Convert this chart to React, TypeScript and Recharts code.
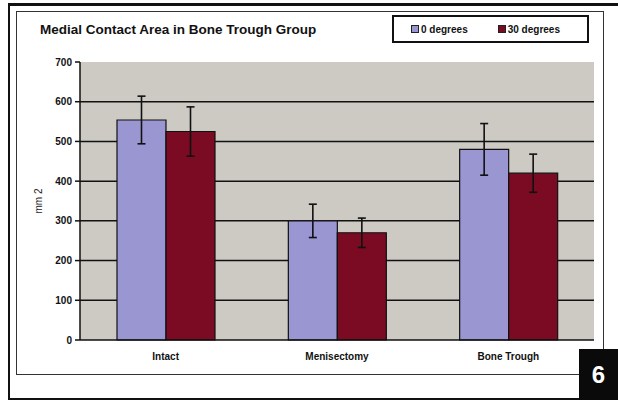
import React from 'react';
import { BarChart, Bar, XAxis, YAxis, CartesianGrid, ErrorBar } from 'recharts';

const CATEGORIES = ['Intact', 'Menisectomy', 'Bone Trough'];
const DEG0 = [554, 300, 480];
const DEG0_ERR = [60, 42, 65];
const DEG30 = [525, 270, 420];
const DEG30_ERR = [62, 37, 48];
const Y_TICKS = [0, 100, 200, 300, 400, 500, 600, 700];
const GRID_VALUES = [100, 200, 300, 400, 500, 600];

const COLOR_0 = '#9a96d2';
const COLOR_30 = '#7a0b22';
const FONT = '"Liberation Sans", Arial, sans-serif';

const data = CATEGORIES.map((name, i) => ({
  name,
  deg0: DEG0[i],
  err0: DEG0_ERR[i],
  deg30: DEG30[i],
  err30: DEG30_ERR[i],
}));

const LegendBox = () => (
  <div
    style={{
      position: 'absolute',
      left: 392,
      top: 15,
      width: 193,
      height: 24,
      border: '2px solid #111',
      display: 'flex',
      alignItems: 'center',
      fontFamily: FONT,
      fontSize: 10,
      fontWeight: 'bold',
      color: '#111',
    }}
  >
    <span style={{ display: 'inline-block', width: 6, height: 6, background: COLOR_0, border: '1px solid #222', marginLeft: 17, marginRight: 2 }} />
    <span>0 degrees</span>
    <span style={{ display: 'inline-block', width: 6, height: 6, background: COLOR_30, border: '1px solid #222', marginLeft: 30, marginRight: 2 }} />
    <span>30 degrees</span>
  </div>
);

export default function App() {
  return (
    <div style={{ position: 'absolute', left: 0, top: 0, width: 618, height: 400, background: '#fff', overflow: 'hidden' }}>
      {/* page frame */}
      <div style={{ position: 'absolute', left: 8, top: 3, width: 640, height: 392, borderLeft: '2px solid #111', borderTop: '3px solid #111', borderBottom: '2px solid #111' }} />
      {/* chart frame */}
      <div style={{ position: 'absolute', left: 16, top: 11, width: 586, height: 362, border: '1.5px solid #333' }} />

      <div style={{ position: 'absolute', left: 0, top: 0 }}>
        <BarChart
          width={618}
          height={400}
          data={data}
          margin={{ top: 62, right: 24, bottom: 30, left: 0 }}
          barGap={0}
          barSize={49}
        >
          <CartesianGrid
            vertical={false}
            horizontalValues={GRID_VALUES}
            stroke="#111"
            strokeWidth={1.5}
            fill="#cdcac4"
          />
          <XAxis
            dataKey="name"
            height={30}
            tickLine={false}
            axisLine={{ stroke: '#111', strokeWidth: 1.5 }}
            tickMargin={7}
            tick={{ fill: '#111', fontSize: 10, fontWeight: 'bold', fontFamily: FONT }}
          />
          <YAxis
            width={80}
            domain={[0, 700]}
            ticks={Y_TICKS}
            interval={0}
            tickSize={5}
            tickMargin={3}
            axisLine={{ stroke: '#111', strokeWidth: 1.5 }}
            tickLine={{ stroke: '#111', strokeWidth: 1.5 }}
            tick={{ fill: '#111', fontSize: 10, fontWeight: 'bold', fontFamily: FONT }}
            label={{
              value: 'mm 2',
              angle: -90,
              position: 'insideLeft',
              offset: 38,
              style: { fill: '#222', fontSize: 10, fontFamily: FONT, textAnchor: 'middle' },
            }}
          />
          <Bar dataKey="deg0" fill={COLOR_0} stroke="#111" strokeWidth={1.2} isAnimationActive={false}>
            <ErrorBar dataKey="err0" width={4} stroke="#111" strokeWidth={1.6} isAnimationActive={false} />
          </Bar>
          <Bar dataKey="deg30" fill={COLOR_30} stroke="#111" strokeWidth={1.2} isAnimationActive={false}>
            <ErrorBar dataKey="err30" width={4} stroke="#111" strokeWidth={1.6} isAnimationActive={false} />
          </Bar>
        </BarChart>
      </div>

      <div
        style={{
          position: 'absolute',
          left: 40,
          top: 22,
          fontFamily: FONT,
          fontSize: 13.5,
          fontWeight: 'bold',
          color: '#111',
          whiteSpace: 'nowrap',
        }}
      >
        Medial Contact Area in Bone Trough Group
      </div>
      <LegendBox />

      <div
        style={{
          position: 'absolute',
          left: 579,
          top: 349,
          width: 39,
          height: 51,
          background: '#0a0a0a',
          color: '#fff',
          fontFamily: FONT,
          fontWeight: 'bold',
          fontSize: 24,
          display: 'flex',
          alignItems: 'center',
          justifyContent: 'center',
        }}
      >
        6
      </div>
    </div>
  );
}
